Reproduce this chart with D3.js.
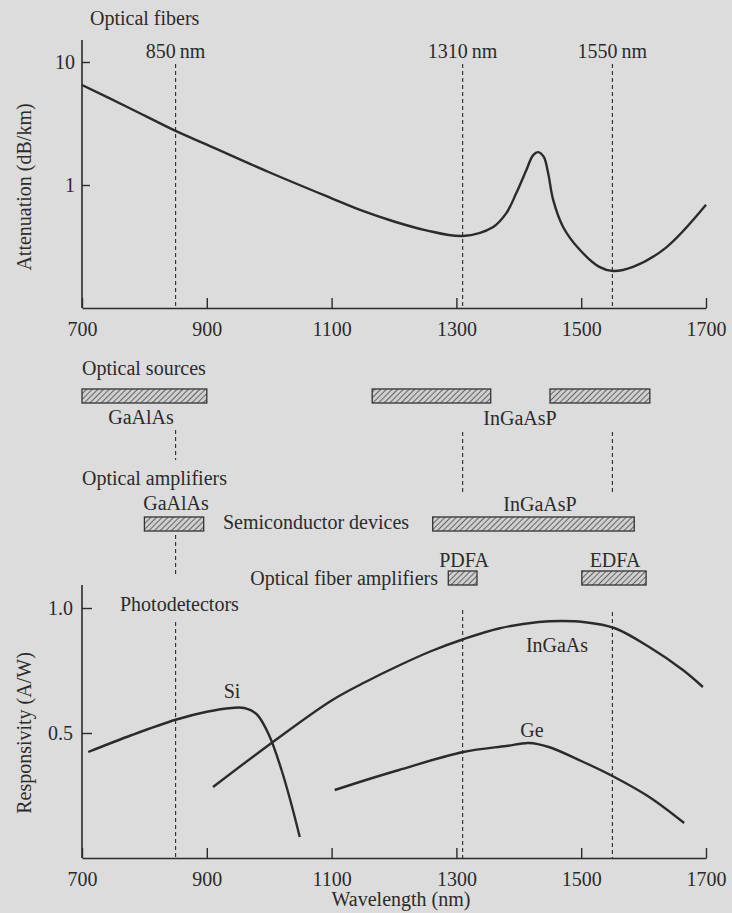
<!DOCTYPE html>
<html>
<head>
<meta charset="utf-8">
<script src="https://cdn.jsdelivr.net/npm/d3@7"></script>
<style>
  body { margin: 0; background: #dcdcdc; }
  svg text { font-family: "Liberation Serif", "Times New Roman", serif; fill: #2b2b2b; }
</style>
</head>
<body>
<div class="container"></div>
<script>
// wavelength axis shared by all panels
const xTicks = [700, 900, 1100, 1300, 1500, 1700];
const markerWl = [850, 1310, 1550];
const attenTicks = [1, 10];
const respTicks = [0.5, 1.0];

// fiber attenuation (dB/km)
const attenWl = [700, 775, 850, 900, 1000, 1100, 1150, 1200, 1250, 1310, 1359, 1380, 1396, 1412, 1423, 1431, 1440, 1447, 1455, 1471, 1497, 1529, 1551, 1583, 1636, 1700];
const attenVal = [6.5, 4.25, 2.75, 2.13, 1.27, 0.78, 0.615, 0.505, 0.43, 0.385, 0.456, 0.59, 0.86, 1.32, 1.75, 1.85, 1.69, 1.25, 0.76, 0.456, 0.3, 0.216, 0.2, 0.216, 0.31, 0.69];

// device bands (nm)
const sourceBands = [[700, 900], [1165, 1355], [1450, 1610]];
const semiBands = [[800, 895], [1262, 1585]];
const fiberAmpBands = [[1287, 1333], [1501, 1604]];

// photodetector responsivity (A/W)
const siWl = [710, 780, 850, 900, 940, 960, 980, 1000, 1020, 1035, 1049];
const siVal = [0.424, 0.492, 0.553, 0.585, 0.6, 0.6, 0.575, 0.49, 0.35, 0.22, 0.084];
const ingaasWl = [910, 1001, 1100, 1155, 1208, 1260, 1311, 1368, 1432, 1470, 1503, 1553, 1609, 1663, 1695];
const ingaasVal = [0.284, 0.455, 0.63, 0.705, 0.77, 0.828, 0.875, 0.918, 0.944, 0.948, 0.944, 0.92, 0.844, 0.752, 0.684];
const geWl = [1105, 1155, 1208, 1311, 1380, 1416, 1448, 1500, 1553, 1609, 1665];
const geVal = [0.272, 0.312, 0.352, 0.424, 0.448, 0.46, 0.444, 0.388, 0.324, 0.244, 0.14];

const ink = "#2b2b2b";
const W = 732, H = 913;

let svg = d3.select(".container")
  .append("svg")
  .attr("width", W)
  .attr("height", H);

svg.append("rect").attr("width", W).attr("height", H).attr("fill", "#dcdcdc");

let defs = svg.append("defs");
let pat = defs.append("pattern")
  .attr("id", "hatch")
  .attr("patternUnits", "userSpaceOnUse")
  .attr("width", 4)
  .attr("height", 4)
  .attr("patternTransform", "rotate(45)");
pat.append("rect").attr("width", 4).attr("height", 4).attr("fill", "#cfcfcf");
pat.append("line")
  .attr("x1", 0).attr("y1", 0).attr("x2", 0).attr("y2", 4)
  .attr("stroke", "#4a4a4a")
  .attr("stroke-width", 1.6);

let x = d3.scaleLinear().domain([700, 1700]).range([82, 706]);
let yAtt = d3.scaleLog().domain([0.1, 10]).range([308, 62]);
let yResp = d3.scaleLinear().domain([0, 1]).range([858, 608]);

function styleAxis(g) {
  g.attr("font-family", null).attr("font-size", 20);
  g.selectAll("line").attr("stroke", ink).attr("stroke-width", 1.4);
  g.selectAll("path").attr("stroke", ink).attr("stroke-width", 1.6);
  g.selectAll("text").attr("fill", ink);
}

function drawXAxis(y0) {
  svg.append("g")
    .attr("transform", `translate(0,${y0})`)
    .call(d3.axisBottom(x).tickValues(xTicks).tickSize(-10).tickSizeOuter(0)
      .tickPadding(14).tickFormat(d3.format("d")))
    .call(styleAxis);
}

function drawYLine(top, bottom) {
  svg.append("line")
    .attr("x1", x(700)).attr("x2", x(700))
    .attr("y1", top).attr("y2", bottom)
    .attr("stroke", ink).attr("stroke-width", 1.6);
}

function dashed(wl, y1, y2) {
  svg.append("line")
    .attr("x1", x(wl)).attr("x2", x(wl))
    .attr("y1", y1).attr("y2", y2)
    .attr("stroke", ink)
    .attr("stroke-width", 1.1)
    .attr("stroke-dasharray", "4,3");
}

function label(txt, lx, ly, anchor) {
  return svg.append("text")
    .attr("x", lx).attr("y", ly)
    .attr("font-size", 20)
    .attr("text-anchor", anchor || "start")
    .text(txt);
}

// ---- optical fibers panel ----
drawYLine(40, 308);
drawXAxis(308);
svg.append("g")
  .attr("transform", `translate(${x(700)},0)`)
  .call(d3.axisLeft(yAtt).tickValues(attenTicks).tickSize(-8).tickPadding(7)
    .tickFormat(d3.format("d")))
  .call(g => g.select(".domain").remove())
  .call(styleAxis);

markerWl.forEach(wl => {
  dashed(wl, 64, 308);
  label(wl + "\u2009nm", x(wl), 58, "middle");
});
label("Optical fibers", 90, 25);

svg.append("text")
  .attr("transform", "translate(31,187) rotate(-90)")
  .attr("font-size", 20)
  .attr("text-anchor", "middle")
  .text("Attenuation (dB/km)");

let attLine = d3.line()
  .x(d => x(d[0]))
  .y(d => yAtt(d[1]))
  .curve(d3.curveCatmullRom.alpha(0.5));
svg.append("path")
  .datum(d3.zip(attenWl, attenVal))
  .attr("d", attLine)
  .attr("fill", "none")
  .attr("stroke", ink)
  .attr("stroke-width", 2.4);

// ---- sources & amplifiers ----
function bars(bands, y0, h) {
  svg.append("g").selectAll("rect")
    .data(bands)
    .join("rect")
    .attr("x", d => x(d[0]))
    .attr("y", y0)
    .attr("width", d => x(d[1]) - x(d[0]))
    .attr("height", h)
    .attr("fill", "url(#hatch)")
    .attr("stroke", "#333")
    .attr("stroke-width", 1.3);
}

label("Optical sources", 82, 375);
bars(sourceBands, 389, 14);
label("GaAlAs", 141, 424, "middle");
label("InGaAsP", 520, 425, "middle");

dashed(850, 430, 460);
dashed(850, 535, 577);
dashed(1310, 432, 494);
dashed(1550, 432, 494);

label("Optical amplifiers", 82, 485);
label("GaAlAs", 176, 510, "middle");
label("InGaAsP", 540, 511, "middle");
bars(semiBands, 517, 14);
label("Semiconductor devices", 223, 529);

label("PDFA", 464, 567, "middle");
label("EDFA", 615, 567, "middle");
bars(fiberAmpBands, 571, 14);
label("Optical fiber amplifiers", 438, 585, "end");

// ---- photodetectors panel ----
drawYLine(585, 858);
drawXAxis(858);
svg.append("g")
  .attr("transform", `translate(${x(700)},0)`)
  .call(d3.axisLeft(yResp).tickValues(respTicks).tickSize(-10).tickPadding(9)
    .tickFormat(d3.format(".1f")))
  .call(g => g.select(".domain").remove())
  .call(styleAxis);

dashed(850, 622, 858);
dashed(1310, 610, 858);
dashed(1550, 612, 858);

label("Photodetectors", 120, 611);

svg.append("text")
  .attr("transform", "translate(31,733) rotate(-90)")
  .attr("font-size", 20)
  .attr("text-anchor", "middle")
  .text("Responsivity (A/W)");

label("Wavelength (nm)", 401, 906, "middle");

let respLine = d3.line()
  .x(d => x(d[0]))
  .y(d => yResp(d[1]))
  .curve(d3.curveCatmullRom.alpha(0.5));

[[siWl, siVal], [ingaasWl, ingaasVal], [geWl, geVal]].forEach(s => {
  svg.append("path")
    .datum(d3.zip(s[0], s[1]))
    .attr("d", respLine)
    .attr("fill", "none")
    .attr("stroke", ink)
    .attr("stroke-width", 2.4);
});

label("Si", 232, 698, "middle");
label("InGaAs", 557, 652, "middle");
label("Ge", 532, 737, "middle");
</script>
</body>
</html>
